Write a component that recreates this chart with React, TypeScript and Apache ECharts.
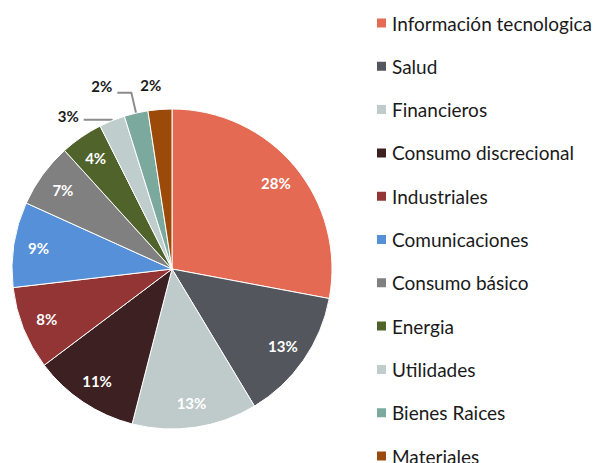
import React, { useEffect, useRef } from 'react';
import * as echarts from 'echarts';

const categories = [
  'Información tecnologica',
  'Salud',
  'Financieros',
  'Consumo discrecional',
  'Industriales',
  'Comunicaciones',
  'Consumo básico',
  'Energia',
  'Utilidades',
  'Bienes Raices',
  'Materiales',
];
const values = [27.9, 13.4, 12.6, 10.7, 8.4, 8.6, 6.5, 4.3, 2.6, 2.4, 2.4];
const colors = [
  '#E46A53',
  '#53565C',
  '#BFCBCB',
  '#3D2022',
  '#943535',
  '#5590D8',
  '#808080',
  '#4F632B',
  '#C0CDCD',
  '#7BA99E',
  '#9C4A0A',
];

const FONT = 'Lato';

const outsideCfg: Record<string, any> = {
  Utilidades: {
    label: { position: 'outside', lineHeight: 8 },
    labelLine: { show: true, length: 1, length2: 28 },
  },
  'Bienes Raices': {
    label: { position: 'outside', lineHeight: 14 },
    labelLine: { show: true, length: 21, length2: 14 },
  },
  Materiales: {
    label: { position: 'outside', lineHeight: 6, distanceToLabelLine: -3 },
    labelLine: { show: false, length: 22, length2: 0 },
  },
};

export default function App() {
  const ref = useRef<HTMLDivElement>(null);
  useEffect(() => {
    document.body.style.margin = '0';
    const chart = echarts.init(ref.current!, null, { renderer: 'svg' });
    const mainData = categories.map((name, i) => ({
      name,
      value: values[i],
      itemStyle: { color: colors[i] },
    }));
    const labelData = categories.map((name, i) => {
      const cfg = outsideCfg[name];
      if (cfg) {
        return {
          name,
          value: values[i],
          label: {
            ...cfg.label,
            color: '#1a1a1a',
          },
          labelLine: cfg.labelLine,
        };
      }
      return { name, value: values[i] };
    });
    chart.setOption({
      animation: false,
      legend: {
        orient: 'vertical',
        left: 370,
        top: 8,
        height: 520,
        data: categories,
        icon: 'rect',
        itemWidth: 11,
        itemHeight: 11,
        itemGap: 23.3,
        textStyle: {
          fontFamily: FONT,
          fontSize: 19,
          lineHeight: 20,
          color: '#1a1a1a',
        },
        selectedMode: false,
      },
      series: [
        {
          type: 'pie',
          center: [172, 269],
          radius: [0, 160],
          startAngle: 90,
          clockwise: true,
          silent: true,
          label: { show: false },
          labelLine: { show: false },
          itemStyle: { borderColor: '#ffffff', borderWidth: 1 },
          emphasis: { disabled: true },
          data: mainData,
        },
        {
          type: 'pie',
          center: [172, 269],
          radius: [104, 160],
          startAngle: 90,
          clockwise: true,
          silent: true,
          avoidLabelOverlap: false,
          itemStyle: { color: 'rgba(0,0,0,0)', borderWidth: 0 },
          emphasis: { disabled: true },
          label: {
            show: true,
            position: 'inside',
            formatter: (p: any) =>
              Math.round(p.percent) + '%' + (outsideCfg[p.name] ? '\n ' : ''),
            color: '#ffffff',
            fontFamily: FONT,
            fontWeight: 'bold',
            fontSize: 15,
          },
          labelLine: {
            show: false,
            lineStyle: { color: '#8c8c8c', width: 2 },
          },
          data: labelData,
        },
      ],
    });
    return () => chart.dispose();
  }, []);
  return (
    <div
      ref={ref}
      style={{ width: 602, height: 463, position: 'absolute', left: 0, top: 0 }}
    />
  );
}
